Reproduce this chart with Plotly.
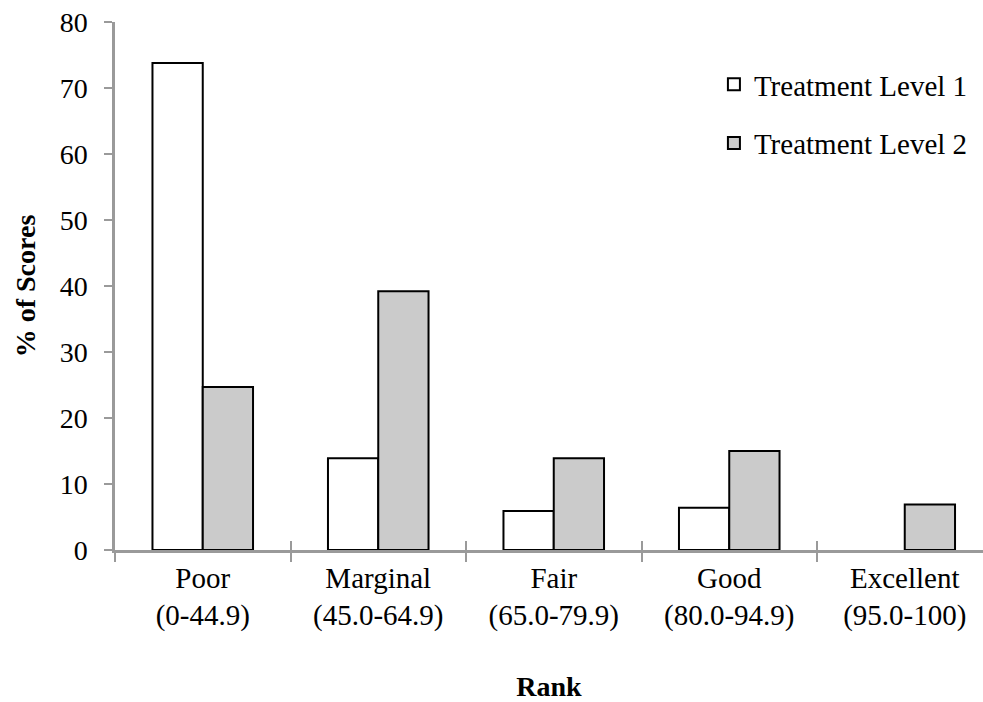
import plotly.graph_objects as go

categories = ["Poor<br>(0-44.9)", "Marginal<br>(45.0-64.9)", "Fair<br>(65.0-79.9)",
              "Good<br>(80.0-94.9)", "Excellent<br>(95.0-100)"]
level1 = [73.8, 13.9, 5.9, 6.4, 0]
level2 = [24.7, 39.2, 13.9, 15.0, 6.9]
series_names = ["Treatment Level 1", "Treatment Level 2"]
y_ticks = [0, 10, 20, 30, 40, 50, 60, 70, 80]

FONT = "Liberation Serif"
AXIS_COL = "#9a9a9a"


def outline_widths(vals):
    return [2 if v else 0 for v in vals]


fig = go.Figure()
fig.add_trace(go.Bar(x=categories, y=level1, name=series_names[0],
                     marker=dict(color="white",
                                 line=dict(color="black", width=outline_widths(level1))),
                     legendgroup="a"))
fig.add_trace(go.Bar(x=categories, y=level2, name=series_names[1],
                     marker=dict(color="#cbcbcb",
                                 line=dict(color="black", width=outline_widths(level2))),
                     legendgroup="b"))

# invisible helper so that the overlaid tick axis (category boundaries) is drawn
boundaries = [i - 0.5 for i in range(len(categories) + 1)]
fig.add_trace(go.Scatter(x=boundaries, y=[0] * len(boundaries), xaxis="x2",
                         mode="markers", marker=dict(opacity=0, size=1),
                         hoverinfo="skip", showlegend=False))

span = 868 / 175.5
fig.update_layout(
    width=983, height=702,
    margin=dict(l=115, r=0, t=22, b=152),
    paper_bgcolor="white", plot_bgcolor="white",
    font=dict(family=FONT, size=28, color="black"),
    barmode="group", bargap=0.427, bargroupgap=0,
    showlegend=True,
    legend=dict(x=0.69, y=0.93, xanchor="left", yanchor="top",
                font=dict(family=FONT, size=29, color="black"),
                tracegroupgap=18, itemwidth=30, bgcolor="rgba(0,0,0,0)"),
    xaxis=dict(type="category", range=[-0.5, -0.5 + span], tickson="boundaries",
               ticks="outside", ticklen=9, tickwidth=2, tickcolor=AXIS_COL,
               showline=True, linecolor=AXIS_COL, linewidth=2.5,
               showgrid=False, zeroline=False,
               tickfont=dict(family=FONT, size=29, color="black"),
               title=dict(text="<b>Rank</b>", font=dict(family=FONT, size=28, color="black"),
                          standoff=46)),
    xaxis2=dict(overlaying="x", anchor="y", visible=True, range=[-0.5, -0.5 + span],
                tick0=-0.5, dtick=1, ticks="inside", ticklen=9, tickwidth=2,
                tickcolor=AXIS_COL, showticklabels=False, showgrid=False,
                zeroline=False, showline=False),
    yaxis=dict(range=[0, 80], tickvals=y_ticks, ticks="outside", ticklen=8,
               tickwidth=2, tickcolor=AXIS_COL, showline=True, linecolor=AXIS_COL,
               linewidth=2.5, showgrid=False, zeroline=False,
               ticklabelstandoff=11,
               tickfont=dict(family=FONT, size=28, color="black"),
               title=dict(text="<b>% of Scores</b>", font=dict(family=FONT, size=28, color="black"),
                          standoff=16)),
)

fig.write_html("out.html", config={"displayModeBar": False})
